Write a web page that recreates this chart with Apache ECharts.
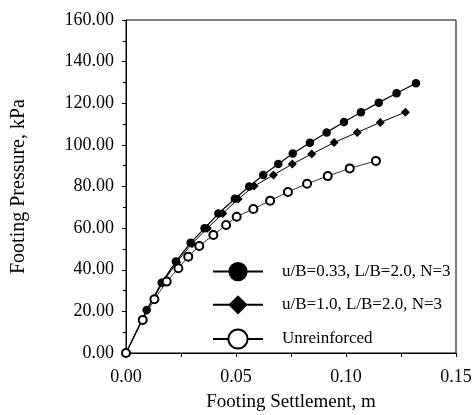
<!DOCTYPE html>
<html>
<head>
<meta charset="utf-8">
<script src="https://cdn.jsdelivr.net/npm/echarts@6/dist/echarts.min.js"></script>
<style>
  html, body { margin: 0; padding: 0; background: #fff; }
  #chart { width: 476px; height: 415px; }
</style>
</head>
<body>
<div id="chart"></div>
<script>
// settlement (m) / pressure (kPa)
var s1Settle = [0, 0.0094, 0.0162, 0.0227, 0.0294, 0.0357, 0.0420, 0.0495, 0.0560, 0.0624, 0.0692, 0.0758, 0.0836, 0.0912, 0.0991, 0.1068, 0.1149, 0.1230, 0.1318];
var s1Press  = [0, 20.7, 33.8, 44.0, 53.0, 59.9, 67.0, 74.1, 80.0, 85.5, 90.8, 95.9, 101.0, 106.0, 111.0, 115.7, 120.3, 124.8, 129.6];

var s2Settle = [0, 0.0094, 0.0165, 0.0230, 0.0300, 0.0370, 0.0440, 0.0510, 0.0582, 0.0670, 0.0756, 0.0844, 0.0946, 0.1051, 0.1156, 0.1270];
var s2Press  = [0, 20.5, 33.5, 43.5, 52.5, 60.0, 67.0, 74.0, 80.2, 85.5, 90.8, 95.6, 101.1, 106.0, 110.8, 115.7];

var s3Settle = [0, 0.0076, 0.0129, 0.0185, 0.0238, 0.0283, 0.0333, 0.0397, 0.0455, 0.0503, 0.0579, 0.0655, 0.0736, 0.0823, 0.0917, 0.1017, 0.1136];
var s3Press  = [0, 15.9, 25.8, 34.3, 40.7, 46.3, 51.4, 56.7, 61.5, 65.5, 69.2, 73.2, 77.4, 81.3, 85.0, 88.7, 92.3];

var names = ['u/B=0.33, L/B=2.0, N=3', 'u/B=1.0, L/B=2.0, N=3', 'Unreinforced'];

function pairs(xs, ys) {
  return xs.map(function (x, i) { return [x, ys[i]]; });
}

var font = 'Liberation Serif';
var chart = echarts.init(document.getElementById('chart'));

chart.setOption({
  animation: false,
  backgroundColor: '#fff',
  textStyle: { fontFamily: font, color: '#000' },
  grid: { left: 126, right: 20, top: 20, bottom: 62, outerBoundsMode: 'none',
    show: true, borderColor: '#000', borderWidth: 1 },
  legend: {
    orient: 'vertical',
    left: 212,
    top: 262,
    padding: 0,
    itemWidth: 50,
    itemHeight: 24,
    itemGap: 14,
    textStyle: { fontFamily: font, fontSize: 17, color: '#000', padding: [0, 0, 0, 14] },
    data: names
  },
  xAxis: {
    type: 'value',
    min: 0, max: 0.15, interval: 0.05,
    name: 'Footing Settlement, m',
    nameLocation: 'middle',
    nameGap: 40,
    nameTextStyle: { fontFamily: font, fontSize: 19, color: '#000' },
    axisLine: { lineStyle: { color: '#000' } },
    axisTick: { length: 4, lineStyle: { color: '#000' } },
    minorTick: { show: true, splitNumber: 2, length: 4, lineStyle: { color: '#000' } },
    splitLine: { show: false },
    axisLabel: { fontFamily: font, fontSize: 18, color: '#000', margin: 15,
      formatter: function (v) { return v.toFixed(2); } }
  },
  yAxis: {
    type: 'value',
    min: 0, max: 160, interval: 20,
    name: 'Footing Pressure, kPa',
    nameLocation: 'middle',
    nameGap: 97,
    nameTextStyle: { fontFamily: font, fontSize: 20, color: '#000' },
    axisLine: { show: true, lineStyle: { color: '#000' } },
    axisTick: { show: true, length: 4, lineStyle: { color: '#000' } },
    minorTick: { show: true, splitNumber: 2, length: 3, lineStyle: { color: '#000' } },
    splitLine: { show: false },
    axisLabel: { fontFamily: font, fontSize: 18, color: '#000', margin: 12,
      formatter: function (v) { return v.toFixed(2); } }
  },
  series: [
    {
      name: names[0], type: 'line', data: pairs(s1Settle, s1Press),
      symbol: 'circle', symbolSize: 8.5,
      itemStyle: { color: '#000' },
      lineStyle: { color: '#000', width: 1.2 }
    },
    {
      name: names[1], type: 'line', data: pairs(s2Settle, s2Press),
      symbol: 'diamond', symbolSize: 9,
      itemStyle: { color: '#000' },
      lineStyle: { color: '#000', width: 1 }
    },
    {
      name: names[2], type: 'line', data: pairs(s3Settle, s3Press),
      symbol: 'emptyCircle', symbolSize: 8,
      itemStyle: { color: '#000', borderWidth: 1 },
      lineStyle: { color: '#000', width: 0.8 }
    }
  ]
});
</script>
</body>
</html>
